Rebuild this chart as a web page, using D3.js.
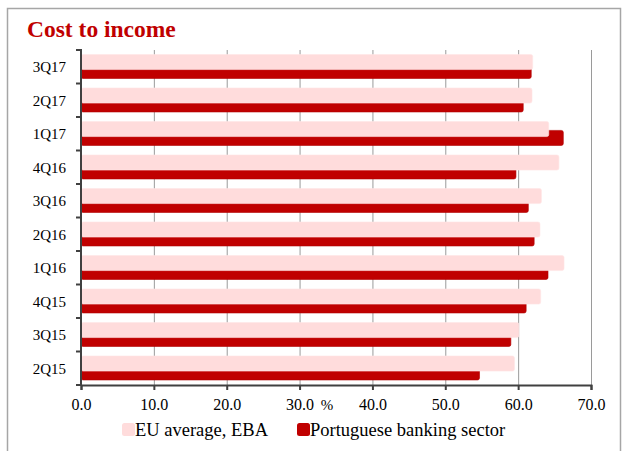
<!DOCTYPE html>
<html>
<head>
<meta charset="utf-8">
<script src="https://cdn.jsdelivr.net/npm/d3@7"></script>
<style>
  body { margin: 0; background: #fff; }
  svg text { font-family: "Liberation Serif", "Times New Roman", serif !important; fill: #000; }
</style>
</head>
<body>
<svg id="chart" width="625" height="451"></svg>
<script>
const quarters = ['3Q17', '2Q17', '1Q17', '4Q16', '3Q16', '2Q16', '1Q16', '4Q15', '3Q15', '2Q15'];
const euAverage = [62.0, 61.9, 64.2, 65.6, 63.2, 63.0, 66.3, 63.1, 60.1, 59.5];
const portugal = [61.8, 60.7, 66.2, 59.7, 61.4, 62.2, 64.1, 61.1, 59.0, 54.7];
const xTicks = [0, 10, 20, 30, 40, 50, 60, 70];
const seriesNames = ['EU average, EBA', 'Portuguese banking sector'];

const pink = '#ffdcdc';
const red = '#c00000';
const serif = '"Liberation Serif", "Times New Roman", serif';

const svg = d3.select('#chart');

// outer frame
svg.append('path')
    .attr('d', 'M7.5,451 V8.5 H620.5 V451')
    .attr('fill', 'none')
    .attr('stroke', '#a6a6a6')
    .attr('stroke-width', 1.5);

svg.append('text')
    .attr('x', 27)
    .attr('y', 37)
    .style('font-size', '23.5px')
    .style('font-weight', 'bold')
    .style('fill', red)
    .text('Cost to income');

const x = d3.scaleLinear().domain([0, 70]).range([81, 591]);
const y = d3.scaleBand().domain(quarters).range([50, 385]);
const bw = y.bandwidth();

// gridlines
svg.append('g')
    .selectAll('line')
    .data(xTicks.slice(1))
    .enter()
    .append('line')
    .attr('x1', d => x(d) + 0.5)
    .attr('x2', d => x(d) + 0.5)
    .attr('y1', 50)
    .attr('y2', 385)
    .attr('stroke', '#9a9a9a')
    .attr('stroke-width', 1);

// red bars first, pink drawn over them
svg.append('g')
    .selectAll('rect')
    .data(portugal)
    .enter()
    .append('rect')
    .attr('x', x(0))
    .attr('y', (d, i) => y(quarters[i]) + bw * 0.4)
    .attr('width', d => x(d) - x(0))
    .attr('height', bw * 0.45)
    .attr('rx', 2)
    .attr('fill', red)
    .attr('stroke', '#b00000')
    .attr('stroke-width', 0.6);

svg.append('g')
    .selectAll('rect')
    .data(euAverage)
    .enter()
    .append('rect')
    .attr('x', x(0))
    .attr('y', (d, i) => y(quarters[i]) + bw * 0.134)
    .attr('width', d => x(d) - x(0))
    .attr('height', bw * 0.45)
    .attr('rx', 2)
    .attr('fill', pink)
    .attr('stroke', '#ffe6e6')
    .attr('stroke-width', 0.6);

// y axis: labels + boundary ticks
const yAxis = svg.append('g')
    .attr('transform', 'translate(81,0)')
    .call(d3.axisLeft(y).tickSize(0).tickPadding(15))
    .attr('font-family', serif);
yAxis.select('.domain').remove();
yAxis.selectAll('text').style('font-size', '15px').attr('dy', '0.36em');

const bounds = quarters.map(q => y(q)).concat([385]);
svg.append('g')
    .selectAll('line')
    .data(bounds)
    .enter()
    .append('line')
    .attr('x1', 76)
    .attr('x2', 81)
    .attr('y1', d => d)
    .attr('y2', d => d)
    .attr('stroke', '#404040')
    .attr('stroke-width', 2);
svg.append('line')
    .attr('x1', 81).attr('x2', 81)
    .attr('y1', 49).attr('y2', 386)
    .attr('stroke', '#404040')
    .attr('stroke-width', 2);

// x axis
const xAxis = svg.append('g')
    .attr('transform', 'translate(0,385)')
    .call(d3.axisBottom(x).tickValues(xTicks).tickFormat(d3.format('.1f')).tickSize(5).tickPadding(9))
    .attr('font-family', serif);
xAxis.select('.domain').attr('stroke', '#404040').attr('stroke-width', 2);
xAxis.selectAll('.tick line').attr('stroke', '#404040').attr('stroke-width', 2);
xAxis.selectAll('text').style('font-size', '16px');

svg.append('text')
    .attr('x', 327)
    .attr('y', 410)
    .attr('text-anchor', 'middle')
    .style('font-size', '15px')
    .text('%');

// legend
const legendX = [122, 297];
const legend = svg.append('g')
    .selectAll('g')
    .data(seriesNames)
    .enter()
    .append('g')
    .attr('transform', (d, i) => 'translate(' + legendX[i] + ',423)');
legend.append('rect')
    .attr('width', 13)
    .attr('height', 13)
    .attr('rx', 2.5)
    .attr('fill', (d, i) => i === 0 ? pink : red);
legend.append('text')
    .attr('x', 13)
    .attr('y', 12.5)
    .style('font-size', '18.5px')
    .text(d => d);
</script>
</body>
</html>
